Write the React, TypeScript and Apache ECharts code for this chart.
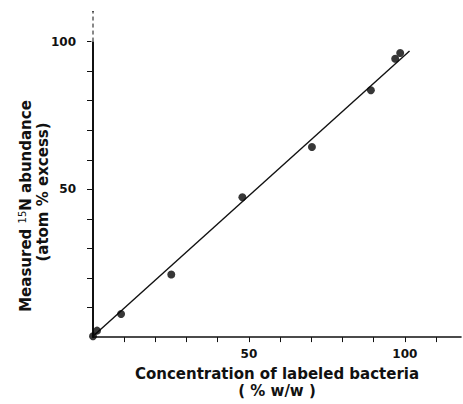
import React, { useEffect, useRef } from "react";
import * as echarts from "echarts";

// Data
const concentration = [0, 1.3, 9.0, 25.1, 47.9, 70.2, 89.1, 96.9, 98.5];
const abundance = [0.3, 2.2, 7.8, 21.2, 47.3, 64.3, 83.5, 94.2, 96.1];
const fitX = [0, 101.5];
const fitY = [0.3, 96.8];

const xTickValues = [10, 20, 30, 40, 50, 60, 70, 80, 90, 100, 110];
const yTickValues = [10, 20, 30, 40, 50, 60, 70, 80, 90, 100];
const xLabelValues = [50, 100];
const yLabelValues = [50, 100];
// top part of the y axis (above 100) is dashed
const yAxisDashed = [100, 110];

const xTitle = "Concentration of labeled bacteria\n( % w/w )";
const yTitleLine1 = "Measured {sup|15}N abundance";
const yTitleLine2 = "(atom % excess)";

const FONT = "DejaVu Sans";
const INK = "#111111";

export default function App() {
  const ref = useRef<HTMLDivElement>(null);

  useEffect(() => {
    if (!ref.current) return;
    document.body.style.margin = "0";
    const chart = echarts.init(ref.current, undefined, { renderer: "svg" });
    const points = concentration.map((x, i) => [x, abundance[i]]);
    const fit = fitX.map((x, i) => [x, fitY[i]]);

    chart.setOption({
      animation: false,
      backgroundColor: "#ffffff",
      grid: { left: 93, width: 368, top: 12, height: 334 },
      xAxis: {
        type: "value",
        min: 0,
        max: 118,
        axisLine: { show: true, lineStyle: { color: INK, width: 1.6 } },
        axisTick: {
          show: true,
          customValues: xTickValues,
          length: 5,
          lineStyle: { color: INK, width: 1 },
        },
        axisLabel: {
          customValues: xLabelValues,
          margin: 11,
          fontSize: 12,
          fontWeight: "bold",
          fontFamily: FONT,
          color: INK,
        },
        splitLine: { show: false },
        name: xTitle,
        nameLocation: "middle",
        nameGap: 27,
        nameTextStyle: {
          fontSize: 15,
          fontWeight: "bold",
          lineHeight: 17,
          fontFamily: FONT,
          color: INK,
        },
      },
      yAxis: {
        type: "value",
        min: 0,
        max: 110,
        axisLine: { show: true, lineStyle: { color: INK, width: 2 } },
        axisTick: {
          show: true,
          customValues: yTickValues,
          length: 6,
          lineStyle: { color: INK, width: 1 },
        },
        axisLabel: {
          customValues: yLabelValues,
          margin: 17,
          fontSize: 12,
          fontWeight: "bold",
          fontFamily: FONT,
          color: INK,
        },
        splitLine: { show: false },
      },
      graphic: [
        {
          type: "text",
          x: 26,
          y: 206,
          rotation: Math.PI / 2,
          style: {
            text: yTitleLine1,
            fontSize: 15,
            fontWeight: "bold",
            fontFamily: FONT,
            fill: INK,
            align: "center",
            verticalAlign: "middle",
            lineHeight: 18,
            rich: {
              sup: {
                fontSize: 10,
                fontWeight: "normal",
                fontFamily: FONT,
                fill: INK,
                verticalAlign: "top",
                lineHeight: 8,
              },
            },
          },
        },
        {
          type: "text",
          x: 43,
          y: 192,
          rotation: Math.PI / 2,
          style: {
            text: yTitleLine2,
            fontSize: 15,
            fontWeight: "bold",
            fontFamily: FONT,
            fill: INK,
            align: "center",
            verticalAlign: "middle",
            lineHeight: 15,
          },
        },
      ],
      series: [
        {
          // white cover so the axis above 100 appears dashed
          type: "line",
          data: yAxisDashed.map((v) => [0, v]),
          symbol: "none",
          clip: false,
          silent: true,
          lineStyle: { color: "#ffffff", width: 4 },
          z: 5,
        },
        {
          type: "line",
          data: yAxisDashed.map((v) => [0, v]),
          symbol: "none",
          clip: false,
          silent: true,
          lineStyle: { color: INK, width: 1, type: [4, 3] },
          z: 6,
        },
        {
          type: "line",
          data: fit,
          symbol: "none",
          lineStyle: { color: INK, width: 1.4 },
          silent: true,
          z: 2,
        },
        {
          type: "scatter",
          data: points,
          symbol: "circle",
          symbolSize: 8,
          clip: false,
          itemStyle: { color: "#050505" },
          z: 3,
        },
      ],
    });

    return () => chart.dispose();
  }, []);

  return (
    <div
      ref={ref}
      style={{ position: "fixed", left: 0, top: 0, width: 463, height: 404 }}
    />
  );
}
